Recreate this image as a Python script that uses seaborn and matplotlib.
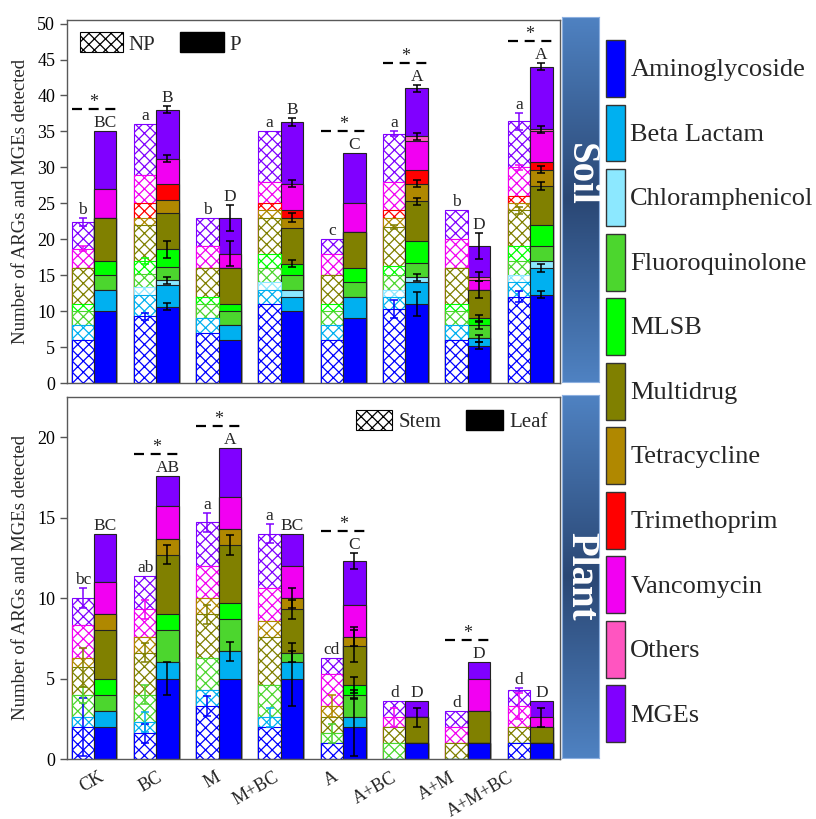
import numpy as np
import pandas as pd
import seaborn as sns
import matplotlib.pyplot as plt
from matplotlib.patches import Patch
from matplotlib.colors import LinearSegmentedColormap
from matplotlib.transforms import ScaledTranslation

# --- data ---
categories = ['Aminoglycoside', 'Beta Lactam', 'Chloramphenicol', 'Fluoroquinolone', 'MLSB',
              'Multidrug', 'Tetracycline', 'Trimethoprim', 'Vancomycin', 'Others', 'MGEs']
cat_colors = ['#0000FF', '#00B0F0', '#8CE8FF', '#4CD62E', '#00FF00',
              '#808000', '#B08800', '#FF0000', '#F200F2', '#FF55C0', '#8000FF']
groups = ['CK', 'BC', 'M', 'M+BC', 'A', 'A+BC', 'A+M', 'A+M+BC']

# segment sizes, one row per group, columns in the order of categories
soil_np = [
    [6.0, 2.0, 0.0, 2.0, 1.0, 5.0, 0.0, 0.0, 2.7, 0.0, 3.7],
    [9.3, 2.9, 1.1, 1.9, 1.8, 5.0, 1.0, 2.0, 4.0, 0.0, 7.0],
    [6.9, 2.1, 0.0, 2.0, 1.0, 4.0, 0.0, 0.0, 3.0, 0.0, 4.0],
    [11.0, 2.0, 1.0, 2.0, 2.0, 5.0, 1.0, 1.0, 3.0, 0.0, 7.0],
    [6.0, 2.0, 0.0, 2.0, 1.0, 4.0, 0.0, 0.0, 3.0, 0.0, 2.0],
    [10.3, 1.7, 1.0, 2.0, 1.3, 5.4, 1.3, 1.0, 4.0, 0.0, 6.7],
    [6.0, 2.0, 0.0, 2.0, 1.0, 5.0, 0.0, 0.0, 4.0, 0.0, 4.0],
    [12.0, 2.0, 1.0, 2.0, 2.0, 5.0, 1.0, 1.0, 4.0, 0.0, 6.4],
]
soil_p = [
    [10.0, 3.0, 0.0, 2.0, 2.0, 6.0, 0.0, 0.0, 4.0, 0.0, 8.0],
    [10.6, 3.0, 0.7, 1.9, 2.4, 5.0, 1.9, 2.2, 3.5, 0.0, 6.8],
    [6.0, 2.0, 0.0, 2.0, 1.0, 5.0, 0.0, 0.0, 2.0, 0.0, 5.0],
    [10.0, 2.0, 1.0, 2.0, 1.6, 5.0, 1.4, 1.0, 3.7, 0.0, 8.6],
    [9.0, 3.0, 0.0, 2.0, 2.0, 5.0, 0.0, 0.0, 4.0, 0.0, 7.0],
    [11.0, 3.0, 0.7, 2.0, 3.0, 5.6, 2.4, 2.0, 4.0, 0.6, 6.7],
    [5.2, 1.0, 0.0, 1.8, 1.0, 4.0, 0.0, 0.0, 1.3, 0.5, 4.2],
    [12.3, 3.7, 1.0, 2.0, 3.0, 5.4, 2.3, 1.0, 4.3, 0.3, 8.7],
]
plant_stem = [
    [2.0, 0.6, 0.0, 1.4, 0.0, 1.7, 0.6, 0.0, 2.0, 0.0, 1.7],
    [1.6, 0.7, 0.0, 1.7, 0.0, 2.6, 1.0, 0.0, 1.7, 0.0, 2.1],
    [3.3, 1.0, 0.0, 2.0, 0.0, 2.7, 1.0, 0.0, 2.0, 0.0, 2.7],
    [2.0, 0.6, 0.0, 2.0, 0.0, 3.0, 1.0, 0.0, 2.0, 0.0, 3.4],
    [1.0, 0.0, 0.0, 0.6, 0.0, 1.0, 0.7, 0.0, 2.0, 0.0, 1.0],
    [0.0, 0.0, 0.0, 1.0, 0.0, 1.0, 0.0, 0.0, 0.6, 0.0, 1.0],
    [0.0, 0.0, 0.0, 0.0, 0.0, 1.0, 0.0, 0.0, 1.0, 0.0, 1.0],
    [1.0, 0.0, 0.0, 0.0, 0.0, 1.0, 0.0, 0.0, 1.3, 0.0, 1.0],
]
plant_leaf = [
    [2.0, 1.0, 0.0, 1.0, 1.0, 3.0, 1.0, 0.0, 2.0, 0.0, 3.0],
    [5.0, 1.0, 0.0, 2.0, 1.0, 3.7, 1.0, 0.0, 2.0, 0.0, 1.9],
    [5.0, 1.7, 0.0, 2.0, 1.0, 3.6, 1.0, 0.0, 2.0, 0.0, 3.0],
    [5.0, 1.0, 0.0, 0.6, 0.0, 2.7, 0.7, 0.0, 2.0, 0.0, 2.0],
    [2.0, 0.6, 0.0, 1.4, 0.6, 2.4, 0.6, 0.0, 2.0, 0.0, 2.7],
    [1.0, 0.0, 0.0, 0.0, 0.0, 1.6, 0.0, 0.0, 0.0, 0.0, 1.0],
    [1.0, 0.0, 0.0, 0.0, 0.0, 2.0, 0.0, 0.0, 2.0, 0.0, 1.0],
    [1.0, 0.0, 0.0, 0.0, 0.0, 1.0, 0.0, 0.0, 0.6, 0.0, 1.0],
]

# error bars: (group index, category index, sd) at the top of that segment
soil_np_err = [(0, 10, 0.5), (0, 8, 0.4), (1, 0, 0.5), (1, 4, 0.4), (5, 0, 1.2), (5, 5, 0.3),
               (5, 10, 0.4), (7, 0, 0.8), (7, 5, 0.5), (7, 8, 0.3), (7, 10, 1.2)]
soil_p_err = [(1, 0, 0.5), (1, 2, 0.5), (1, 4, 1.2), (1, 8, 0.5), (1, 10, 0.5),
              (2, 8, 1.7), (2, 10, 1.8),
              (3, 4, 0.5), (3, 6, 0.6), (3, 8, 0.5), (3, 10, 0.5),
              (5, 0, 1.7), (5, 2, 0.5), (5, 5, 0.5), (5, 6, 0.5), (5, 9, 0.5), (5, 10, 0.5),
              (6, 0, 0.5), (6, 1, 0.5), (6, 3, 0.5), (6, 4, 0.4), (6, 5, 1.2), (6, 9, 0.6), (6, 10, 1.8),
              (7, 0, 0.5), (7, 1, 0.5), (7, 5, 0.5), (7, 6, 0.5), (7, 9, 0.5), (7, 10, 0.5)]
plant_stem_err = [(0, 0, 1.8), (0, 3, 0.5), (0, 5, 1.2), (0, 10, 0.6),
                  (1, 0, 0.6), (1, 1, 0.6), (1, 3, 0.6), (1, 5, 0.6), (1, 8, 0.6),
                  (2, 0, 0.6), (2, 5, 0.6), (2, 10, 0.6),
                  (3, 1, 0.6), (3, 10, 0.6),
                  (4, 3, 0.6), (4, 6, 0.7),
                  (5, 8, 0.6),
                  (7, 8, 0.8), (7, 10, 0.1)]
plant_leaf_err = [(1, 0, 1.0), (1, 5, 0.6),
                  (2, 1, 0.6), (2, 5, 0.6),
                  (3, 0, 1.7), (3, 3, 0.6), (3, 5, 0.6), (3, 6, 0.6),
                  (4, 0, 1.8), (4, 3, 0.3), (4, 4, 0.5), (4, 5, 1.0), (4, 6, 0.6), (4, 10, 0.5),
                  (5, 5, 0.6),
                  (7, 8, 0.6)]

soil_np_letters = ['b', 'a', 'b', 'a', 'c', 'a', 'b', 'a']
soil_p_letters = ['BC', 'B', 'D', 'B', 'C', 'A', 'D', 'A']
soil_star = [True, False, False, False, True, True, False, True]
plant_stem_letters = ['bc', 'ab', 'a', 'a', 'cd', 'd', 'd', 'd']
plant_leaf_letters = ['BC', 'AB', 'A', 'BC', 'C', 'D', 'D', 'D']
plant_star = [False, True, True, False, True, False, True, False]

# --- style ---
sns.set_style('ticks')
plt.rcParams['font.family'] = ['Liberation Serif', 'DejaVu Serif']
plt.rcParams['hatch.linewidth'] = 0.9

W, H = 816, 819
fig = plt.figure(figsize=(W / 100, H / 100), dpi=100)
ax_soil = fig.add_axes([67 / W, 1 - 383 / H, 493 / W, 363 / H])
ax_plant = fig.add_axes([67 / W, 1 - 759 / H, 493 / W, 362 / H])
HATCH = 'xxx'
OFF = 0.18


def stack_frame(left_vals, right_vals, names):
    rows = []
    for name, vals in zip(names, (left_vals, right_vals)):
        for g, seg in zip(groups, vals):
            for c, t in zip(categories, np.cumsum(seg)):
                rows.append({'group': g, 'series': name, 'category': c, 'top': t})
    return pd.DataFrame(rows)


def draw_stacks(ax, df, names):
    # tallest cumulative layer first, each lower layer painted over it
    for k in range(len(categories) - 1, -1, -1):
        sub = df[df['category'] == categories[k]]
        n0 = len(ax.patches)
        sns.barplot(data=sub, x='group', y='top', hue='series', order=groups, hue_order=names,
                    palette={names[0]: 'white', names[1]: cat_colors[k]}, saturation=1,
                    width=0.72, errorbar=None, legend=False, ax=ax)
        for p in ax.patches[n0:]:
            cx = p.get_x() + p.get_width() / 2
            if cx < round(cx):
                p.set_hatch(HATCH)
                p.set_edgecolor(cat_colors[k])
            else:
                p.set_edgecolor('#222222')
            p.set_linewidth(0.8)


def px_unit(ax):
    h = ax.get_position().height * H
    y0, y1 = ax.get_ylim()
    return (y1 - y0) / h


def top_err(errs, g):
    return max([e for gg, k, e in errs if gg == g and k == len(categories) - 1], default=0)


def draw_errors(ax, vals, errs, side, colored):
    for g, k, e in errs:
        y = np.cumsum(vals[g])[k]
        col = cat_colors[k] if colored else 'black'
        ax.errorbar(g + side * OFF, y, yerr=e, fmt='none', ecolor=col, elinewidth=1.1,
                    capsize=3, capthick=1.1, zorder=5)


def draw_letters(ax, vals, errs, letters, side, stars=None):
    u = px_unit(ax)
    for g, lab in enumerate(letters):
        y = sum(vals[g]) + top_err(errs, g)
        ax.text(g + side * OFF, y + 4 * u, lab, ha='center', va='baseline', fontsize=12.5)
        if stars is not None and stars[g]:
            yd = y + 22 * u
            ax.plot([g - 0.36, g + 0.36], [yd, yd], color='black', lw=1.6, dashes=(4.5, 3),
                    solid_capstyle='butt', dash_capstyle='butt')
            ax.text(g, yd + 2 * u, '*', ha='center', va='baseline', fontsize=13)


def finish_axis(ax, ylim, yticks):
    ax.set_xlim(-0.433, 7.48)
    ax.set_ylim(*ylim)
    ax.set_yticks(yticks)
    ax.set_xlabel('')
    ax.set_ylabel('Number of ARGs and MGEs detected', fontsize=13.5, labelpad=6)
    ax.tick_params(axis='y', direction='out', length=5, width=1, colors='#555555',
                   labelcolor='black', labelsize=13)
    ax.tick_params(axis='x', length=0)
    for s in ax.spines.values():
        s.set_color('#595959')
        s.set_linewidth(1.0)


# --- soil panel ---
draw_stacks(ax_soil, stack_frame(soil_np, soil_p, ['NP', 'P']), ['NP', 'P'])
finish_axis(ax_soil, (0, 50.5), range(0, 51, 5))
draw_errors(ax_soil, soil_np, soil_np_err, -1, True)
draw_errors(ax_soil, soil_p, soil_p_err, 1, False)
draw_letters(ax_soil, soil_np, soil_np_err, soil_np_letters, -1)
draw_letters(ax_soil, soil_p, soil_p_err, soil_p_letters, 1, soil_star)
ax_soil.tick_params(axis='x', labelbottom=False)
ax_soil.legend(handles=[Patch(facecolor='white', edgecolor='black', hatch=HATCH, linewidth=0.8),
                        Patch(facecolor='black', edgecolor='black')],
               labels=['NP', 'P'], loc='upper left', ncol=2, frameon=False, fontsize=15,
               handlelength=2.1, handleheight=1.1, handletextpad=0.25, columnspacing=1.2,
               borderaxespad=0.2, borderpad=0.4)

# --- plant panel ---
draw_stacks(ax_plant, stack_frame(plant_stem, plant_leaf, ['Stem', 'Leaf']), ['Stem', 'Leaf'])
finish_axis(ax_plant, (0, 22.5), range(0, 21, 5))
draw_errors(ax_plant, plant_stem, plant_stem_err, -1, True)
draw_errors(ax_plant, plant_leaf, plant_leaf_err, 1, False)
draw_letters(ax_plant, plant_stem, plant_stem_err, plant_stem_letters, -1)
draw_letters(ax_plant, plant_leaf, plant_leaf_err, plant_leaf_letters, 1, plant_star)
ax_plant.set_xticks(np.arange(len(groups)) * 0.94)
ax_plant.set_xticklabels(groups, rotation=30, ha='right', rotation_mode='anchor', fontsize=13)
ax_plant.tick_params(axis='x', pad=7)
for lab in ax_plant.get_xticklabels():
    lab.set_transform(lab.get_transform() + ScaledTranslation(3 / 72, 0, fig.dpi_scale_trans))
ax_plant.legend(handles=[Patch(facecolor='white', edgecolor='black', hatch=HATCH, linewidth=0.8),
                         Patch(facecolor='black', edgecolor='black')],
                labels=['Stem', 'Leaf'], loc='upper right', ncol=2, frameon=False, fontsize=15,
                handlelength=1.75, handleheight=1.1, handletextpad=0.3, columnspacing=1.2,
                borderaxespad=0.2, borderpad=0.4)

# --- side labels ---
side_cmap = LinearSegmentedColormap.from_list('side', ['#4F82C2', '#2A4774', '#4F82C2'])
for (top, bottom, label, ty) in [(17, 382, 'Soil', 0.57), (395, 758, 'Plant', 0.5)]:
    sax = fig.add_axes([562 / W, 1 - bottom / H, 37 / W, (bottom - top) / H])
    sax.imshow(np.linspace(0, 1, 256).reshape(-1, 1), aspect='auto', cmap=side_cmap,
               extent=(0, 1, 0, 1))
    sax.set_xticks([])
    sax.set_yticks([])
    for s in sax.spines.values():
        s.set_color('#8DB0E0')
        s.set_linewidth(0.8)
    sax.text(0.5, ty, label, rotation=-90, color='white', fontweight='bold', fontsize=28,
             ha='center', va='center', transform=sax.transAxes)

# --- category legend ---
fig.legend(handles=[Patch(facecolor=c, edgecolor='#333333', linewidth=1.0) for c in cat_colors],
           labels=categories, loc='upper left', bbox_to_anchor=(606 / W, 1 - 40 / H),
           frameon=False, fontsize=19, handlelength=0.72, handleheight=2.94,
           handletextpad=0.2, labelspacing=0.29, borderpad=0, borderaxespad=0)

fig.savefig('out.png', dpi=100)
